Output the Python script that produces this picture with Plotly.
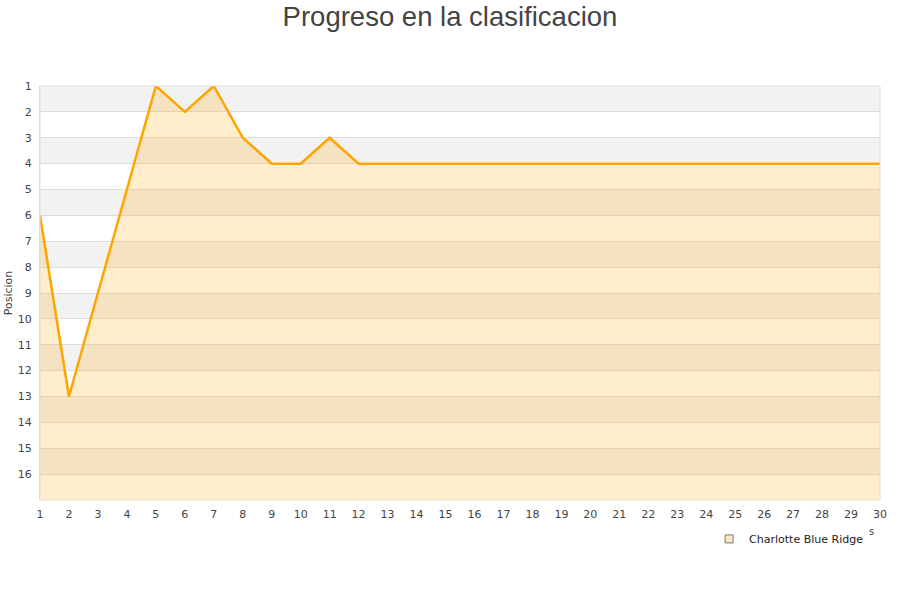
import plotly.graph_objects as go

jornadas = list(range(1, 31))
posiciones = [6, 13, 9, 5, 1, 2, 1, 3, 4, 4, 3, 4] + [4] * 18
equipo = "Charlotte Blue Ridge"
y_ticks = list(range(1, 17))
y_bottom = 17

fig = go.Figure()

# baseline for fill
fig.add_trace(go.Scatter(x=jornadas, y=[y_bottom] * len(jornadas), mode="lines",
                         line=dict(width=0, color="rgba(0,0,0,0)"), showlegend=False,
                         hoverinfo="skip"))
fig.add_trace(go.Scatter(x=jornadas, y=posiciones, mode="lines", fill="tonexty",
                         fillcolor="rgba(255,165,0,0.2)",
                         line=dict(color="#ffa500", width=2.5), showlegend=False,
                         name=equipo))
fig.add_trace(go.Scatter(x=[None], y=[None], mode="markers", name=equipo,
                         marker=dict(symbol="square", size=8, color="#ffe8c4",
                                     line=dict(color="#777", width=1))))

shapes = []
for k in range(1, y_bottom, 2):
    shapes.append(dict(type="rect", xref="paper", yref="y", x0=0, x1=1, y0=k, y1=k + 1,
                       fillcolor="#f2f2f2", line=dict(width=0), layer="below"))

fig.update_layout(
    width=900, height=600,
    margin=dict(l=40, r=20, t=86, b=100, autoexpand=False),
    plot_bgcolor="white", paper_bgcolor="white",
    title=dict(text="Progreso en la clasificacion", x=0.5, xanchor="center", y=1 - 16 / 600,
               yanchor="middle", font=dict(family="Liberation Sans, Arial", size=27.5, color="#444")),
    shapes=shapes,
    showlegend=True,
    legend=dict(orientation="h", x=0.987, xanchor="right", y=-0.094, yanchor="middle",
                font=dict(family="DejaVu Sans", size=11, color="#222"),
                bgcolor="rgba(0,0,0,0)"),
    font=dict(family="DejaVu Sans", size=11, color="#444"),
)
fig.update_xaxes(range=[1, 30], tickmode="array", tickvals=jornadas, ticktext=[str(j) for j in jornadas],
                 showgrid=False, zeroline=False, showline=False, ticks="", automargin=False,
                 ticklabelstandoff=6, tickfont=dict(size=11, color="#444"))
fig.update_yaxes(range=[y_bottom, 1], tickmode="array", tickvals=y_ticks,
                 ticktext=[str(t) for t in y_ticks], showgrid=True, gridcolor="#dddddd",
                 gridwidth=1, zeroline=False, showline=True, linecolor="#dddddd",
                 ticks="", tickfont=dict(size=11, color="#444"), automargin=False,
                 ticklabelstandoff=5,
                 title=dict(text="Posicion", font=dict(size=11, color="#444"), standoff=2))
fig.add_shape(type="rect", xref="paper", yref="paper", x0=0, x1=1, y0=0, y1=1,
              line=dict(color="#dddddd", width=1), fillcolor="rgba(0,0,0,0)", layer="above")
fig.add_annotation(text="s", xref="paper", yref="paper", x=(876 - 40) / 840, y=-31 / 414,
                   yanchor="middle", showarrow=False, font=dict(size=10, color="#444"))

fig.write_html("out.html", config={"displayModeBar": False},
               post_script="document.body.style.margin='0px';")
